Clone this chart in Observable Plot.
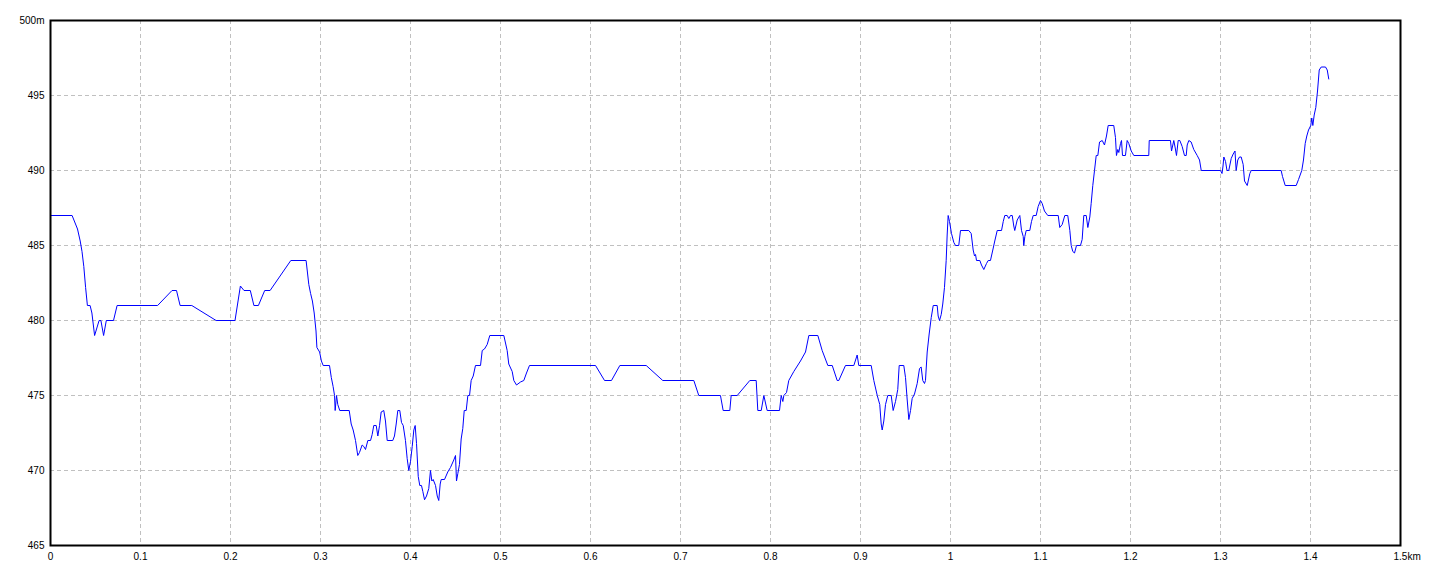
<!DOCTYPE html>
<html>
<head>
<meta charset="utf-8">
<script src="https://cdn.jsdelivr.net/npm/d3@7"></script>
<script src="https://cdn.jsdelivr.net/npm/@observablehq/plot@0.6"></script>
<style>
  html, body { margin: 0; padding: 0; background: #fff; }
  #chart svg { display: block; }
</style>
</head>
<body>
<div id="chart"></div>
<script>
// Distance along the route (metres)
const distanceM = [
  0, 24, 30, 33, 35, 37, 39, 41, 44, 46, 49, 54, 56, 59, 62, 70, 74, 119, 135, 140,
  144, 157, 184, 205, 211, 215, 222, 226, 231, 238, 244, 267, 284, 287, 289, 291, 293, 295, 296, 299,
  301, 303, 310, 312, 314, 315.6, 316.3, 317.8, 319.2, 321.4, 331.9, 334.1, 336.3, 338.9, 341.4, 343.3, 346.3, 348.1, 350, 352.6,
  355.6, 357.4, 359.2, 361.9, 363.7, 365.6, 367.4, 370.3, 372.2, 374.1, 380.3, 382.2, 384.1, 385.9, 388.1, 390, 391.9, 394.4, 396.3, 398.1,
  400, 401.9, 403.7, 405.2, 406.7, 408.6, 410.3, 412.2, 413.7, 415.6, 417.8, 420.3, 422.2, 423.7, 425.2, 427.8, 429.7, 431.4, 433, 434.1,
  437.8, 441.4, 444.4, 448.1, 450, 451.1, 452.6, 454.4, 456.3, 458.1, 459.7, 461.9, 463.7, 465.6, 467.4, 469.7, 472.2, 477.8, 479.7, 482.2,
  485.2, 488.1, 503.7, 507.4, 509.2, 513, 514.8, 517.8, 522.2, 525.9, 528.9, 532.2, 605.6, 615.6, 623.3, 632.6, 661.9, 680.3, 714.8, 720.3,
  744.4, 747.4, 754.8, 756.3, 763, 777, 784.1, 785.9, 789.7, 792.6, 796.3, 810, 811.9, 813.7, 814.8, 817.8, 820.3, 825.9, 833.3, 838.9,
  842.6, 852.6, 857.4, 863.7, 868.6, 874.1, 875.9, 883.3, 892.6, 896.3, 898.1, 911.9, 914.8, 918.6, 921.4, 923, 924.1, 925.9, 927.8, 930.3,
  934.1, 936.3, 938.9, 941.4, 943, 948.1, 950, 951.9, 953.7, 955.6, 957.4, 960, 963, 965.6, 967.4, 969.2, 971.1, 972.2, 974.1, 976.3,
  978.6, 980.8, 985.2, 986.3, 987.8, 989.7, 991.4, 993.3, 995.2, 996.3, 997.4, 998.9, 1001.1, 1003.7, 1005.6, 1009.2, 1011.1, 1020.3, 1023, 1025.2,
  1026.7, 1027.8, 1028.9, 1032.6, 1034.4, 1037, 1040, 1041.9, 1044.4, 1047, 1049.2, 1051.9, 1056.7, 1058.6, 1060.3, 1063, 1064.8, 1066.7, 1068.6, 1070.3,
  1071.4, 1074.1, 1077, 1078.9, 1080.8, 1081.4, 1082.6, 1084.1, 1088.1, 1090, 1091.9, 1095.2, 1097.4, 1100, 1101.9, 1104.4, 1108.1, 1119.7, 1121.4, 1124.1,
  1127, 1130.3, 1132.6, 1134.1, 1135.9, 1137.8, 1140, 1144.4, 1146.3, 1148.1, 1150.8, 1152.6, 1154.8, 1156.3, 1158.1, 1160, 1161.9, 1163.7, 1165.6, 1168.6,
  1171.1, 1173.3, 1175.2, 1181.4, 1183.3, 1184.4, 1185.9, 1187, 1188.9, 1190, 1191.1, 1194.4, 1196.3, 1198.1, 1200.8, 1203.7, 1220.3, 1220.8, 1244.4, 1245.6,
  1247, 1248.1, 1249.7, 1251.1, 1253, 1254.8, 1257.4, 1260, 1261.9, 1263, 1264.8, 1267.4, 1270.3, 1274.1, 1276.7, 1278.6, 1300, 1301.7, 1302.8, 1303.7,
  1305.6, 1307.2, 1309.2, 1311.9, 1314.1, 1316.1, 1317.4, 1319.2, 1321.1, 1323, 1325.2, 1326.7, 1329.7, 1332.6, 1334.1, 1367.4, 1368.9, 1371.9, 1384.1, 1386.7,
  1390.3, 1392.2, 1394.1, 1395.9, 1397.8, 1400.3, 1401.4, 1402.6, 1404.1, 1405.9, 1407.8, 1409.7, 1411.9, 1416.7, 1418.6, 1420.3
];

// Elevation (metres)
const elevationM = [
  487, 487, 486.1, 485.3, 484.6, 483.6, 482.2, 481, 481, 480.5, 479, 480, 480, 479, 480, 480, 481, 481, 482, 482,
  481, 481, 480, 480, 482.3, 482, 482, 481, 481, 482, 482, 484, 484, 482.4, 481.8, 481.3, 480.5, 479.3, 478.2, 477.9,
  477.3, 477, 477, 476.2, 475.6, 475, 474, 475, 474.4, 474, 474, 473.1, 472.7, 472, 471, 471.2, 471.7, 471.6, 471.4, 472,
  472, 472.4, 473, 473, 472.3, 473, 473.9, 474, 473.3, 472, 472, 472.3, 473.1, 474, 474, 473.2, 473, 472, 470.8, 470,
  470.6, 471.6, 472.7, 473, 471.8, 469.6, 469, 469, 468.6, 468.05, 468.3, 468.8, 470, 469.3, 469.4, 469, 468.3, 468, 469.1, 469.4,
  469.4, 469.9, 470.2, 470.7, 471, 469.3, 469.8, 470.4, 472.1, 472.8, 474, 474, 475, 475, 476, 476.3, 477, 477, 478, 478.1,
  478.4, 479, 479, 478, 477.1, 476.6, 476, 475.7, 475.9, 476, 476.5, 477, 477, 476, 476, 477, 477, 476, 476, 475,
  475, 474, 474, 475, 475, 476, 476, 474, 474, 475, 474, 474, 475, 474.6, 475, 475.2, 476, 476.6, 477.3, 477.9,
  479, 479, 478, 477, 477, 476, 476, 477, 477, 477.7, 477, 477, 476, 475, 474.4, 473.1, 472.7, 473.3, 474.4, 475,
  475, 474, 474.6, 475.4, 477, 477, 476.2, 474.7, 473.4, 474, 474.8, 475.1, 475.8, 476.8, 476.9, 476, 475.8, 476, 477.9, 479.1,
  480.2, 481, 481, 480.3, 480, 480.4, 481.1, 482.2, 484, 485.7, 487, 486.6, 485.8, 485.2, 485, 485, 486, 486, 485.8, 484.7,
  484.3, 484.4, 484, 484, 483.7, 483.4, 483.8, 484, 484, 484.7, 485.3, 486, 486, 486.6, 487, 487, 486.8, 487, 487, 486.3,
  486, 486.7, 487, 486, 485.6, 485, 485.6, 486, 486, 486.6, 487, 487, 487.6, 488, 487.8, 487.3, 487, 487, 486.2, 486.4,
  487, 487, 486, 485, 484.6, 484.5, 485, 485, 485.4, 487, 487, 486.2, 486.9, 487.8, 489, 490, 491, 491, 491.9, 492,
  491.7, 492.3, 493, 493, 492.2, 491, 491.4, 491.2, 491.8, 492, 491, 491, 492, 491.8, 491.3, 491, 491, 492, 492, 491.3,
  491.7, 492, 491.5, 491, 492, 492, 491.6, 491, 491, 491.7, 492, 491.9, 491.4, 491, 490.7, 490, 490, 489.8, 490.3, 490.9,
  490.6, 490, 490, 490.8, 491.1, 491.3, 490, 490.7, 490.9, 490.9, 490.4, 489.3, 489, 489.8, 490, 490, 489.6, 489, 489, 489.4,
  490, 490.7, 491.8, 492.3, 492.7, 493, 493.5, 493, 493.7, 494.2, 495.3, 496.7, 496.9, 496.9, 496.7, 496.1
];

// Tick values
const xTicks = [0, 0.1, 0.2, 0.3, 0.4, 0.5, 0.6, 0.7, 0.8, 0.9, 1, 1.1, 1.2, 1.3, 1.4];
const xLastTick = [1.5];
const yTicks = [465, 470, 475, 480, 485, 490, 495, 500];
const xGridTicks = [0.1, 0.2, 0.3, 0.4, 0.5, 0.6, 0.7, 0.8, 0.9, 1, 1.1, 1.2, 1.3, 1.4];
const yGridTicks = [470, 475, 480, 485, 490, 495];

const profile = distanceM.map((d, i) => ({ km: d / 1000, elev: elevationM[i] }));

const chart = Plot.plot({
  width: 1440,
  height: 576,
  marginLeft: 50,
  marginRight: 40,
  marginTop: 20,
  marginBottom: 31,
  style: { fontFamily: "'Liberation Sans', Arial, sans-serif", fontSize: "10px", color: "#000", background: "#fff" },
  x: { domain: [0, 1.5], label: null },
  y: { domain: [465, 500], label: null },
  marks: [
    Plot.gridX(xGridTicks, { stroke: "#c0c0c0", strokeOpacity: 1, strokeDasharray: "4,3" }),
    Plot.gridY(yGridTicks, { stroke: "#c0c0c0", strokeOpacity: 1, strokeDasharray: "4,3" }),
    Plot.line(profile, { x: "km", y: "elev", stroke: "#0000ff", strokeWidth: 1 }),
    Plot.frame({ stroke: "#000", strokeWidth: 2 }),
    Plot.axisY(yTicks, { label: null, tickSize: 0, tickPadding: 6, fill: "#000",
      tickFormat: d => d === 500 ? "500m" : String(d) }),
    Plot.axisX(xTicks, { label: null, tickSize: 0, tickPadding: 7, fill: "#000",
      tickFormat: d => String(+d.toFixed(1)) }),
    Plot.axisX(xLastTick, { label: null, tickSize: 0, tickPadding: 7, fill: "#000", textAnchor: "start", dx: -7,
      tickFormat: d => String(d) + "km" })
  ]
});
document.getElementById("chart").appendChild(chart);
</script>
</body>
</html>
